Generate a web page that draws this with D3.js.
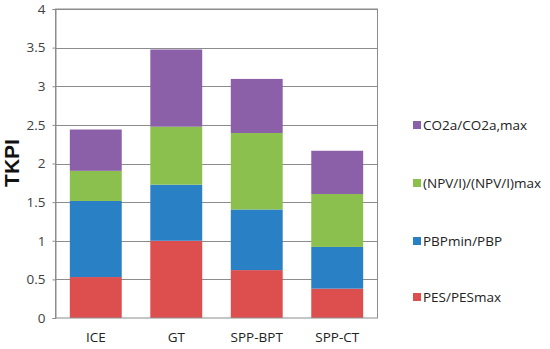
<!DOCTYPE html>
<html><head><meta charset="utf-8">
<script src="https://cdn.jsdelivr.net/npm/d3@7"></script>
<style>html,body{margin:0;padding:0;background:#fff;}</style>
</head><body>
<svg id="chart" width="550" height="349"></svg>
<script>
const categories = ["ICE", "GT", "SPP-BPT", "SPP-CT"];
const seriesNames = ["PES/PESmax", "PBPmin/PBP", "(NPV/I)/(NPV/I)max", "CO2a/CO2a,max"];
const pes = [0.53, 1.0, 0.62, 0.38];
const pbp = [0.985, 0.726, 0.785, 0.54];
const npv = [0.39, 0.75, 0.99, 0.685];
const co2 = [0.535, 1.0, 0.70, 0.56];
const yTicks = [0, 0.5, 1, 1.5, 2, 2.5, 3, 3.5, 4];
const colors = ["#DD4E4E", "#2A80C4", "#8CC04E", "#8B60A8"];

const svg = d3.select("#chart");
const L = 55.5, R = 377.5, T = 9, B = 318;
const x = d3.scaleBand().domain(categories).range([L, R]).paddingInner(0.355).paddingOuter(0.178);
const y = d3.scaleLinear().domain([0, 4]).range([B, T]);

const rows = categories.map((c, i) => ({cat: c, s0: pes[i], s1: pbp[i], s2: npv[i], s3: co2[i]}));
const stack = d3.stack().keys(["s0", "s1", "s2", "s3"])(rows);

// gridlines
svg.append("g").selectAll("line").data(yTicks.slice(1)).join("line")
  .attr("x1", L).attr("x2", R)
  .attr("y1", d => Math.round(y(d)) + 0.5).attr("y2", d => Math.round(y(d)) + 0.5)
  .attr("stroke", "#8c8c8c").attr("stroke-width", 1);

// bars
svg.append("g").selectAll("g").data(stack).join("g")
  .attr("fill", (d, i) => colors[i])
  .selectAll("rect").data(d => d).join("rect")
  .attr("x", d => x(d.data.cat))
  .attr("width", x.bandwidth())
  .attr("y", d => y(d[1]))
  .attr("height", d => y(d[0]) - y(d[1]));

// plot border
svg.append("rect").attr("x", L).attr("y", T).attr("width", R - L).attr("height", B - T)
  .attr("fill", "none").attr("stroke", "#8c8c8c").attr("stroke-width", 1);

// y axis
const yAxis = d3.axisLeft(y).tickValues(yTicks).tickSize(3).tickFormat(d3.format("~g"));
const ya = svg.append("g").attr("transform", `translate(${L},0)`).call(yAxis);
ya.select(".domain").attr("stroke", "#8c8c8c");
ya.selectAll(".tick line").attr("stroke", "#8c8c8c");
ya.selectAll(".tick text").attr("x", -10).attr("fill", "#404040")
  .style("font-family", "'Open Sans', sans-serif").style("font-size", "13.5px");

// x axis labels
const xa = svg.append("g").attr("transform", `translate(0,${B})`).call(d3.axisBottom(x).tickSize(0));
xa.select(".domain").remove();
xa.selectAll(".tick text").attr("y", 14).attr("fill", "#222")
  .style("font-family", "'Open Sans', sans-serif").style("font-size", "13.5px");

// y title
svg.append("text").attr("transform", "translate(19,163) rotate(-90)")
  .attr("text-anchor", "middle").attr("fill", "#111")
  .style("font-family", "'Liberation Sans', Arial, sans-serif").style("font-weight", "bold").style("font-size", "21px")
  .text("TKPI");

// legend
const legY = [297, 241, 183, 125];
const leg = svg.append("g").selectAll("g").data(seriesNames).join("g")
  .attr("transform", (d, i) => `translate(413,${legY[i]})`);
leg.append("rect").attr("x", 0).attr("y", -4).attr("width", 8).attr("height", 8)
  .attr("fill", (d, i) => colors[i]);
leg.append("text").attr("x", 10).attr("y", 0).attr("dy", "0.35em").attr("fill", "#222")
  .style("font-family", "'Open Sans', sans-serif").style("font-size", "13.5px")
  .text(d => d);
</script>
</body></html>
